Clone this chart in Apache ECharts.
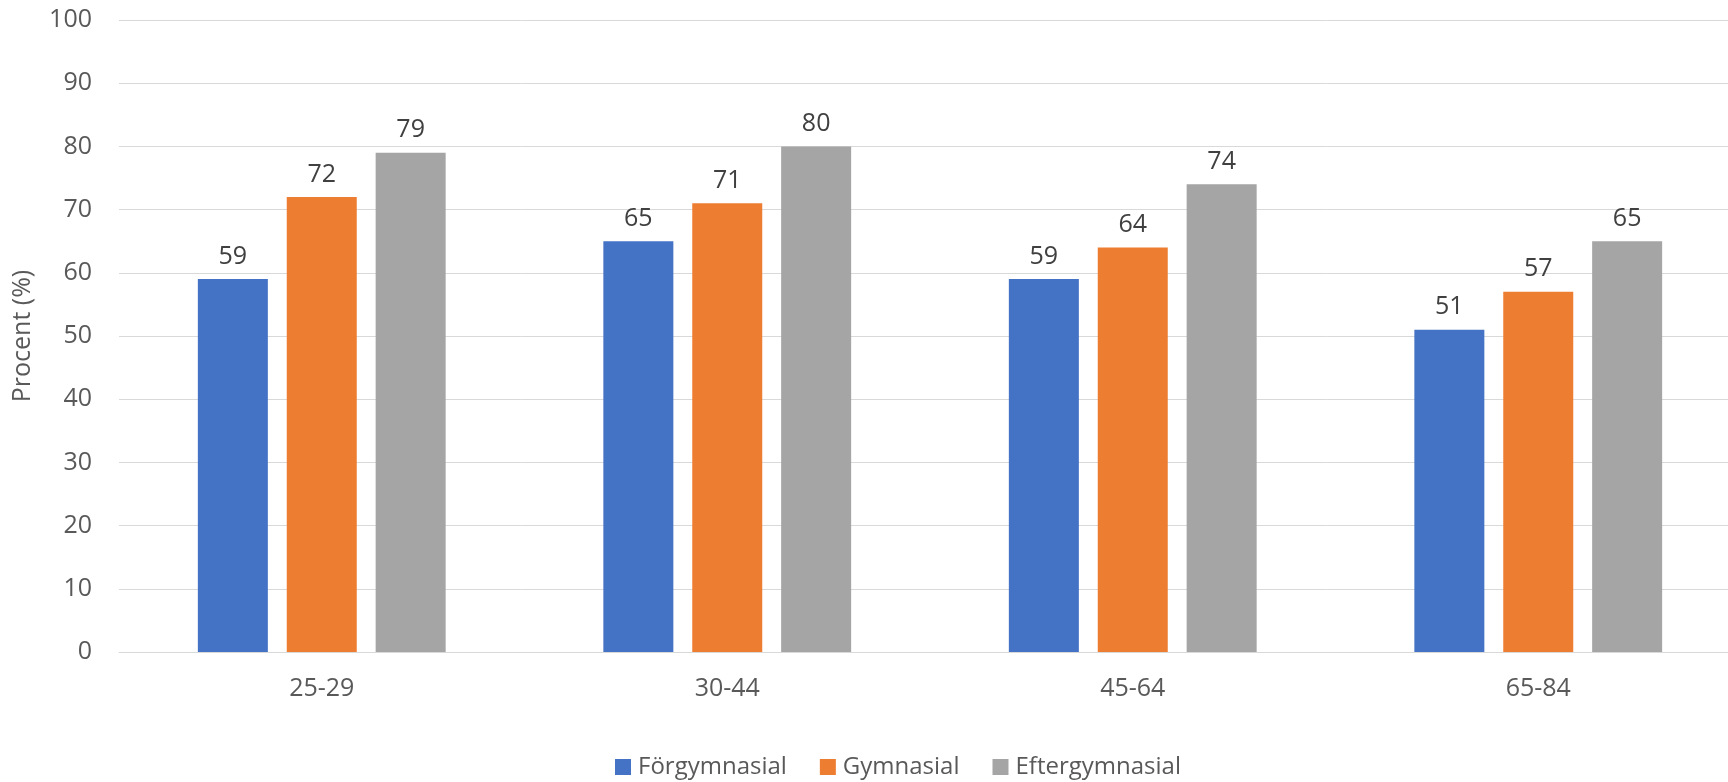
<!DOCTYPE html>
<html>
<head>
<meta charset="utf-8">
<script src="https://cdn.jsdelivr.net/npm/echarts@6/dist/echarts.min.js"></script>
<style>
  html, body { margin: 0; padding: 0; background: #ffffff; }
  #chart { width: 1728px; height: 782px; }
</style>
</head>
<body>
<div id="chart"></div>
<script>
// Age groups on the x axis
const categories = ['25-29', '30-44', '45-64', '65-84'];

// Share (%) per education level
const forgymnasial = [59, 65, 59, 51];
const gymnasial = [72, 71, 64, 57];
const eftergymnasial = [79, 80, 74, 65];

const seriesNames = ['Förgymnasial', 'Gymnasial', 'Eftergymnasial'];
const seriesColors = ['#4472C4', '#ED7D31', '#A5A5A5'];
const seriesValues = [forgymnasial, gymnasial, eftergymnasial];

const FONT = '"Open Sans", "Noto Sans", sans-serif';

const chart = echarts.init(document.getElementById('chart'), null, { renderer: 'canvas' });

const series = seriesNames.map((name, i) => ({
  name: name,
  type: 'bar',
  data: seriesValues[i],
  barWidth: 70,
  barGap: '27%',
  itemStyle: { color: seriesColors[i] },
  label: {
    show: true,
    position: 'top',
    distance: 10,
    color: '#404040',
    fontFamily: FONT,
    fontSize: 25
  }
}));

chart.setOption({
  animation: false,
  backgroundColor: '#ffffff',
  grid: {
    left: 119,
    top: 20,
    width: 1622,
    height: 632,
    containLabel: false,
    outerBoundsMode: 'none'
  },
  legend: {
    data: seriesNames,
    left: 610,
    top: 750,
    icon: 'rect',
    itemWidth: 16,
    itemHeight: 16,
    itemGap: 33,
    textStyle: {
      color: '#595959',
      fontFamily: FONT,
      fontSize: 24,
      padding: [0, 0, 0, 2]
    }
  },
  xAxis: {
    type: 'category',
    data: categories,
    axisLine: { show: true, lineStyle: { color: '#d9d9d9', width: 1 } },
    axisTick: { show: false },
    axisLabel: {
      color: '#595959',
      fontFamily: FONT,
      fontSize: 25,
      margin: 24
    }
  },
  yAxis: {
    type: 'value',
    min: 0,
    max: 100,
    interval: 10,
    name: 'Procent (%)',
    nameLocation: 'middle',
    nameGap: 84,
    nameTextStyle: {
      color: '#595959',
      fontFamily: FONT,
      fontSize: 25
    },
    axisLine: { show: false },
    axisTick: { show: false },
    axisLabel: {
      color: '#595959',
      fontFamily: FONT,
      fontSize: 25,
      margin: 27
    },
    splitLine: { show: true, lineStyle: { color: '#d9d9d9', width: 1 } }
  },
  series: series
});
</script>
</body>
</html>
